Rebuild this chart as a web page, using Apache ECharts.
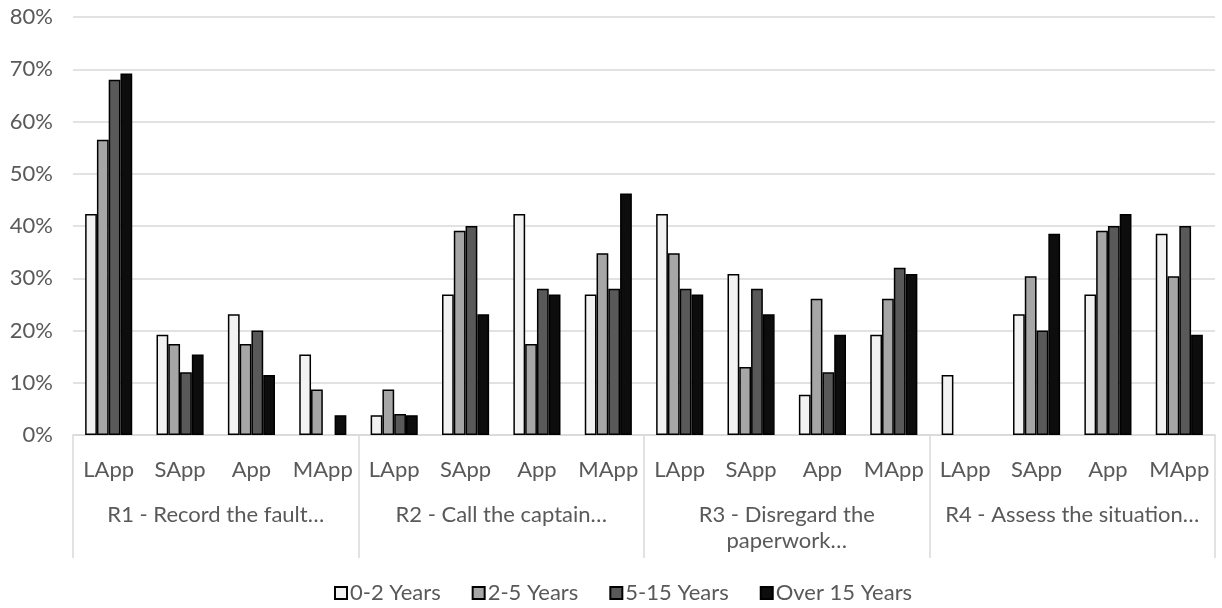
<!DOCTYPE html>
<html>
<head>
<meta charset="utf-8">
<script src="https://cdn.jsdelivr.net/npm/echarts@6/dist/echarts.min.js"></script>
<style>
  html, body { margin: 0; padding: 0; background: #fff; }
  #chart { width: 1222px; height: 608px; }
</style>
</head>
<body>
<div id="chart"></div>
<script>
// Response types within each scenario (inner axis level)
const responseTypes = ['LApp', 'SApp', 'App', 'MApp'];
// Scenarios (outer axis level)
const scenarios = [
  'R1 - Record the fault…',
  'R2 - Call the captain…',
  'R3 - Disregard the\npaperwork…',
  'R4 - Assess the situation…'
];
const seriesNames = ['0-2 Years', '2-5 Years', '5-15 Years', 'Over 15 Years'];

// Percentages, ordered R1 LApp..MApp, R2 LApp..MApp, R3 ..., R4 ...
const years0to2 = [42.3, 19.2, 23.1, 15.4,  3.8, 26.9, 42.3, 26.9,  42.3, 30.8,  7.7, 19.2,  11.5, 23.1, 26.9, 38.5];
const years2to5 = [56.5, 17.4, 17.4,  8.7,  8.7, 39.1, 17.4, 34.8,  34.8, 13.0, 26.1, 26.1,   0.0, 30.4, 39.1, 30.4];
const years5to15 = [68.0, 12.0, 20.0,  0.0,  4.0, 40.0, 28.0, 28.0,  28.0, 28.0, 12.0, 32.0,   0.0, 20.0, 40.0, 40.0];
const yearsOver15 = [69.2, 15.4, 11.5,  3.8,  3.8, 23.1, 26.9, 46.2,  26.9, 23.1, 19.2, 30.8,   0.0, 38.5, 42.3, 19.2];

const seriesData = [years0to2, years2to5, years5to15, yearsOver15];
const fills = ['#f2f2f2', '#a6a6a6', '#595959', '#0d0d0d'];

const innerLabels = [];
scenarios.forEach(() => responseTypes.forEach(r => innerLabels.push(r)));

const font = 'Lato, "Open Sans", sans-serif';
const textColor = '#595959';
const lineColor = '#d9d9d9';
const fontSize = 22;

// A zero-height bar keeps its value but draws no outline
const toBarData = arr => arr.map(v => (v === 0 ? { value: v, itemStyle: { borderWidth: 0 } } : v));

const chart = echarts.init(document.getElementById('chart'), null, { renderer: 'canvas' });

chart.setOption({
  animation: false,
  textStyle: { fontFamily: font },
  grid: { left: 73, right: 7, top: 17, bottom: 173, containLabel: false },
  legend: {
    top: 582,
    left: 334,
    icon: 'rect',
    itemWidth: 12,
    itemHeight: 12,
    itemGap: 31,
    padding: 0,
    textStyle: { color: textColor, fontSize: fontSize, fontFamily: font, padding: [0, 0, 0, -2] },
    data: seriesNames
  },
  xAxis: [
    {
      type: 'category',
      data: innerLabels,
      position: 'bottom',
      axisLine: { show: true, lineStyle: { color: lineColor, width: 1.5 } },
      axisTick: { show: false },
      axisLabel: { color: textColor, fontSize: fontSize, margin: 24, interval: 0, fontFamily: font }
    },
    {
      type: 'category',
      data: scenarios,
      position: 'bottom',
      axisLine: { show: false },
      axisTick: { show: true, length: 123, interval: 0, lineStyle: { color: lineColor, width: 1.5 } },
      axisLabel: {
        color: textColor, fontSize: fontSize, margin: 67, interval: 0,
        lineHeight: 26, verticalAlign: 'top', fontFamily: font
      }
    }
  ],
  yAxis: {
    type: 'value',
    min: 0,
    max: 80,
    interval: 10,
    axisLine: { show: false },
    axisTick: { show: false },
    splitLine: { lineStyle: { color: lineColor, width: 1.5 } },
    axisLabel: { color: textColor, fontSize: fontSize, margin: 20, formatter: '{value}%', fontFamily: font }
  },
  series: seriesNames.map((name, i) => ({
    name,
    type: 'bar',
    xAxisIndex: 0,
    data: toBarData(seriesData[i]),
    barGap: '0%',
    barCategoryGap: '34%',
    itemStyle: { color: fills[i], borderColor: '#000', borderWidth: 1.5 }
  }))
});
</script>
</body>
</html>
